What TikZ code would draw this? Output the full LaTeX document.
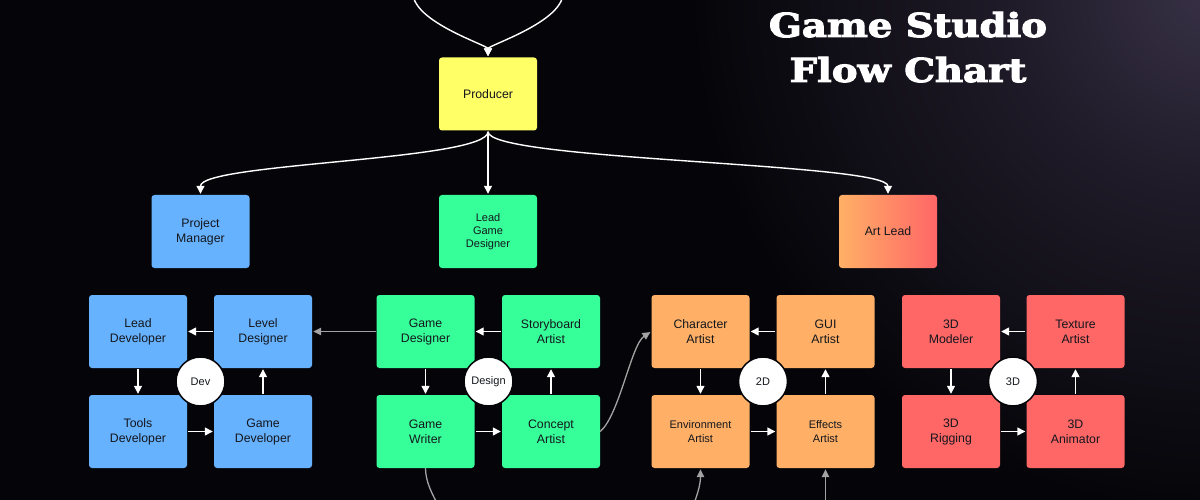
\documentclass[tikz,border=0pt]{standalone}
\usepackage{fontspec}
\setmainfont{Liberation Sans}
\newfontfamily\titlefont{DejaVu Serif}[BoldFeatures={FakeBold=3}]
\usetikzlibrary{arrows.meta}
\definecolor{bg}{HTML}{050509}
\definecolor{glow}{HTML}{383146}
\definecolor{glowmid}{HTML}{1E1A27}
\definecolor{cblue}{HTML}{66B2FF}
\definecolor{cgreen}{HTML}{36FF9A}
\definecolor{corange}{HTML}{FFB066}
\definecolor{cred}{HTML}{FF6666}
\definecolor{cyellow}{HTML}{FFFF66}
\definecolor{cgray}{HTML}{A3A3A3}
\definecolor{txt}{HTML}{14161C}
\pgfdeclareradialshading{glowshade}{\pgfpoint{0bp}{0bp}}{color(0bp)=(glow); color(10bp)=(glowmid); color(25bp)=(bg); color(50bp)=(bg)}
\tikzset{
  rolebox/.style={rounded corners=3pt, minimum width=98pt, minimum height=73pt,
    align=center, text=txt, inner sep=0pt, font=\fontsize{12.3}{15}\selectfont},
  smalltext/.style={font=\fontsize{11}{13.3}\selectfont},
  bluebox/.style={rolebox, fill=cblue},
  greenbox/.style={rolebox, fill=cgreen},
  orangebox/.style={rolebox, fill=corange},
  redbox/.style={rolebox, fill=cred},
  yellowbox/.style={rolebox, fill=cyellow},
  hub/.style={circle, fill=white, draw=bg, line width=1.5pt, minimum size=49pt,
    inner sep=0pt, text=txt, font=\fontsize{11}{13}\selectfont},
  warr/.style={draw=white, line width=1.4pt, -{Triangle[length=8pt,width=8pt]},
    shorten <=1pt, shorten >=1pt},
  garr/.style={draw=cgray, line width=1.3pt, -{Triangle[length=8pt,width=7.5pt]},
    shorten >=1pt},
  gline/.style={draw=cgray, line width=1.3pt},
  titletext/.style={anchor=base, text=white, inner sep=0pt,
    font=\titlefont\bfseries\fontsize{33}{36}\selectfont}
}
\begin{document}
\begin{tikzpicture}[x=1pt,y=-1pt]
\useasboundingbox (0,0) rectangle (1200,500);
\fill[bg] (0,0) rectangle (1200,500);
\clip (0,0) rectangle (1200,500);
\shade[shading=glowshade] (1210,-10) circle (520);

% title
\node[titletext] (title1) at (908,37) {\scalebox{1.17}[1]{Game Studio}};
\node[titletext] (title2) at (908,82) {\scalebox{1.17}[1]{Flow Chart}};

% top level
\node[yellowbox] (prod) at (488,94) {Producer};
\node[bluebox] (pm) at (200.5,231.5) {Project\\Manager};
\node[greenbox, smalltext] (lgd) at (488,231.5) {Lead\\Game\\Designer};
\node[rolebox, left color=corange, right color=cred] (art) at (888,231.5) {Art Lead};

\coordinate (topL) at (413,-8);
\coordinate (topR) at (563,-8);
\draw[warr] (topL) .. controls +(0,30) and +(0,-12) .. (prod.north);
\draw[warr] (topR) .. controls +(0,30) and +(0,-12) .. (prod.north);
\draw[warr] (prod.south) .. controls +(0,30) and +(0,-32) .. (pm.north);
\draw[warr] (prod.south) -- (lgd.north);
\draw[warr] (prod.south) .. controls +(0,30) and +(0,-32) .. (art.north);

% Dev group
\node[bluebox] (leaddev) at (138,331.5) {Lead\\Developer};
\node[bluebox] (leveldes) at (263,331.5) {Level\\Designer};
\node[bluebox] (toolsdev) at (138,431.5) {Tools\\Developer};
\node[bluebox] (gamedev) at (263,431.5) {Game\\Developer};

% Design group
\node[greenbox] (gamedes) at (425.5,331.5) {Game\\Designer};
\node[greenbox] (story) at (551,331.5) {Storyboard\\Artist};
\node[greenbox] (writer) at (425.5,431.5) {Game\\Writer};
\node[greenbox] (concept) at (551,431.5) {Concept\\Artist};

% 2D group
\node[orangebox] (charart) at (700.5,331.5) {Character\\Artist};
\node[orangebox] (gui) at (825.5,331.5) {GUI\\Artist};
\node[orangebox, smalltext] (env) at (700.5,431.5) {Environment\\Artist};
\node[orangebox, smalltext] (fx) at (825.5,431.5) {Effects\\Artist};

% 3D group
\node[redbox] (modeler) at (951,331.5) {3D\\Modeler};
\node[redbox] (texture) at (1075.5,331.5) {Texture\\Artist};
\node[redbox] (rigging) at (951,431.5) {3D\\Rigging};
\node[redbox] (animator) at (1075.5,431.5) {3D\\Animator};

% cycle arrows
\draw[warr] (leaddev.south) -- (toolsdev.north);
\draw[warr] (toolsdev.east) -- (gamedev.west);
\draw[warr] (gamedev.north) -- (leveldes.south);
\draw[warr] (leveldes.west) -- (leaddev.east);

\draw[warr] (gamedes.south) -- (writer.north);
\draw[warr] (writer.east) -- (concept.west);
\draw[warr] (concept.north) -- (story.south);
\draw[warr] (story.west) -- (gamedes.east);

\draw[warr] (charart.south) -- (env.north);
\draw[warr] (env.east) -- (fx.west);
\draw[warr] (fx.north) -- (gui.south);
\draw[warr] (gui.west) -- (charart.east);

\draw[warr] (modeler.south) -- (rigging.north);
\draw[warr] (rigging.east) -- (animator.west);
\draw[warr] (animator.north) -- (texture.south);
\draw[warr] (texture.west) -- (modeler.east);

% hubs
\node[hub] (hubdev) at (200.5,381.5) {Dev};
\node[hub] (hubdesign) at (488.5,381.5) {Design};
\node[hub] (hub2d) at (763,381.5) {2D};
\node[hub] (hub3d) at (1013,381.5) {3D};

% gray connectors
\draw[garr] (gamedes.west) -- (leveldes.east);
\draw[garr] (concept.east) .. controls +(19,-16) and +(-20,13) .. (charart.west);
\coordinate (wout) at (470,548);
\draw[gline] (writer.south) .. controls +(0,25) and +(-20,-25) .. (wout);
\coordinate (envin) at (670,548);
\draw[garr] (envin) .. controls +(15,-20) and +(0,25) .. (env.south);
\coordinate (fxin) at (825.5,548);
\draw[garr] (fxin) -- (fx.south);
\end{tikzpicture}
\end{document}
